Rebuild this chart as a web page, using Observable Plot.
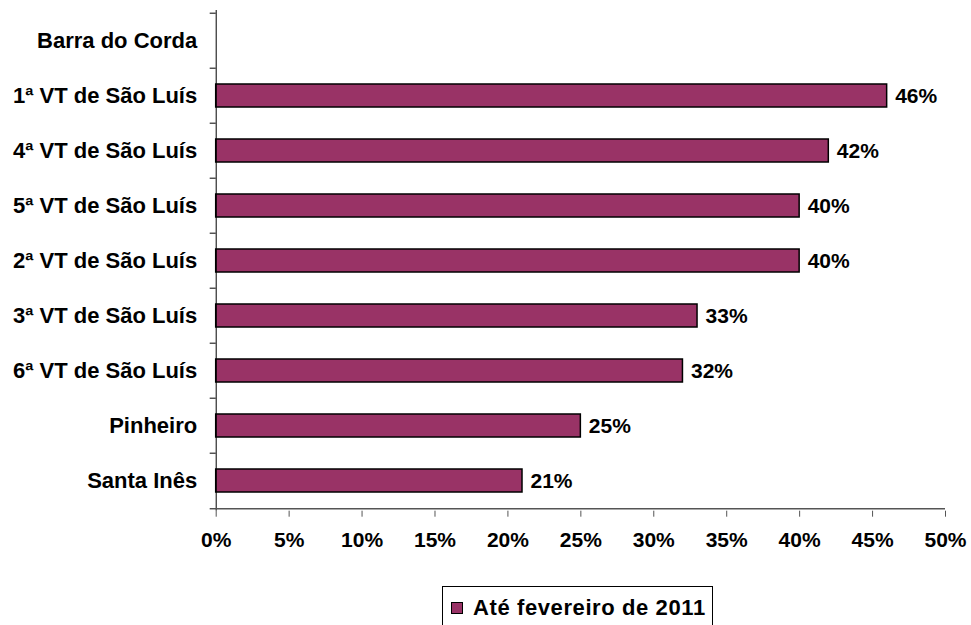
<!DOCTYPE html>
<html><head><meta charset="utf-8">
<script src="https://cdn.jsdelivr.net/npm/d3@7"></script>
<script src="https://cdn.jsdelivr.net/npm/@observablehq/plot@0.6"></script>
<style>
html,body{margin:0;padding:0;background:#fff;}
body{font-family:"Liberation Sans",Arial,sans-serif;position:relative;width:971px;height:625px;overflow:hidden;}
#legend{position:absolute;left:442px;top:586px;width:271px;height:44px;border:1px solid #000;box-sizing:border-box;display:flex;align-items:center;background:#fff;}
#legend .sw{width:12px;height:12px;background:#993366;border:1px solid #000;box-sizing:border-box;margin-left:8px;margin-right:10px;}
#legend .tx{font-weight:bold;font-size:22px;letter-spacing:0.6px;color:#000;white-space:nowrap;}
</style></head><body><div id="chart"></div>
<script>
const categories = ["Barra do Corda","1ª VT de São Luís","4ª VT de São Luís","5ª VT de São Luís","2ª VT de São Luís","3ª VT de São Luís","6ª VT de São Luís","Pinheiro","Santa Inês"];
const values = [null,46,42,40,40,33,32,25,21];
const xTicks = [0,5,10,15,20,25,30,35,40,45,50];
const seriesName = "Até fevereiro de 2011";

const data = categories.map((c,i)=>({category:c, value:values[i]}));
const bars = data.filter(d=>d.value!=null);

const W = 971, H = 560, mL = 215.7, mR = 26, mT = 10, mB = 49.3;
const step = (H - mT - mB) / categories.length;
const plotW = W - mL - mR;

const chart = Plot.plot({
  width: W, height: H,
  marginLeft: mL, marginRight: mR, marginTop: mT, marginBottom: mB,
  style: {fontFamily: '"Liberation Sans", Arial, sans-serif', fontWeight: "bold", color: "#000", background: "#fff", overflow: "visible"},
  x: {domain: [0, 50]},
  y: {domain: categories, paddingInner: 0.58, paddingOuter: 0.29},
  marks: [
    Plot.barX(bars, {y: "category", x: "value", fill: "#993366", stroke: "#000", strokeWidth: 1.5}),
    Plot.text(bars, {y: "category", x: "value", text: d => d.value + "%", textAnchor: "start", dx: 8, fontSize: 21, fontWeight: "bold", fill: "#000"}),
    Plot.ruleX([0], {stroke: "#000", strokeWidth: 1}),
    Plot.ruleY([categories[categories.length-1]], {dy: step/2, stroke: "#555", strokeWidth: 1.5}),
    Plot.ruleY(categories, {dy: -step/2, insetLeft: -6, insetRight: plotW, stroke: "#000"}),
    Plot.ruleY([categories[categories.length-1]], {dy: step/2, insetLeft: -6, insetRight: plotW, stroke: "#000"}),
    Plot.axisX({ticks: xTicks, tickFormat: d => d + "%", tickSize: 6, tickPadding: 15, label: null, fontSize: 21, fontWeight: "bold", stroke: "#555"}),
    Plot.axisY({tickSize: 0, tickPadding: 19, label: null, fontSize: 22, fontWeight: "bold"})
  ]
});
document.getElementById("chart").appendChild(chart);

const lg = document.createElement("div");
lg.id = "legend";
lg.innerHTML = '<div class="sw"></div><div class="tx"></div>';
lg.querySelector(".tx").textContent = seriesName;
document.body.appendChild(lg);
</script>
</body></html>
